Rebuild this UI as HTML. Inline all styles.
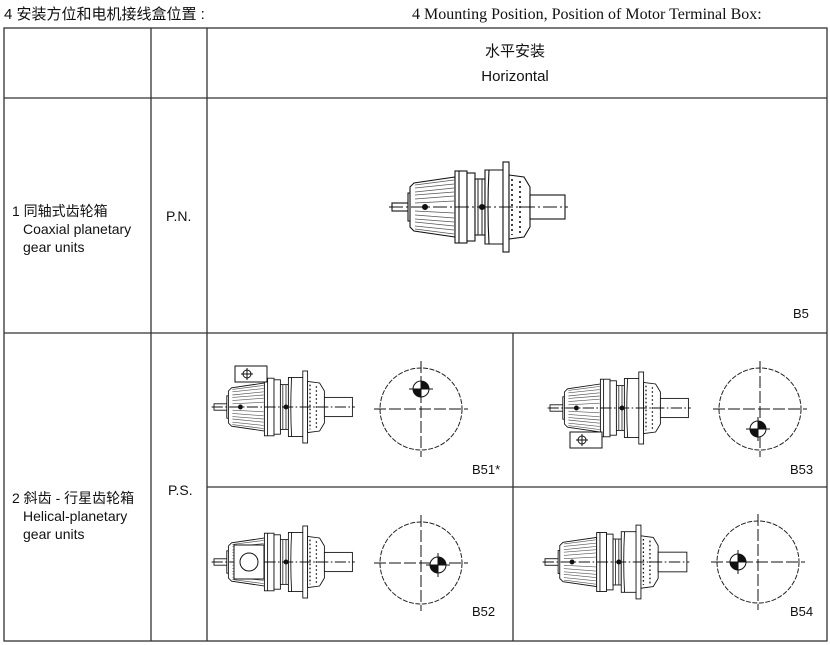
<!DOCTYPE html>
<html><head><meta charset="utf-8"><style>
body{margin:0;background:#fff;}
svg{display:block;}
text{font-family:"Liberation Sans","Noto Sans CJK SC",sans-serif;fill:#111;}
.s{font-family:"Liberation Serif","Noto Serif CJK SC",serif;}
</style></head><body>
<svg width="830" height="645" viewBox="0 0 830 645" xmlns="http://www.w3.org/2000/svg">
<defs>
<g id="m" fill="#fff" stroke="#111" stroke-width="1.1">
  <rect x="0" y="-4" width="20" height="8"/>
  <path d="M16,-14 L20,-14 L20,14 L16,14 Z"/>
  <path d="M18,-20 L22,-24 L63,-30 L63,30 L22,24 L18,20 Z"/>
  <g stroke="#555" stroke-width="0.8">
    <line x1="23" y1="-22" x2="62" y2="-27"/><line x1="23" y1="-19" x2="62" y2="-23"/>
    <line x1="23" y1="-15" x2="62" y2="-19"/><line x1="23" y1="-12" x2="62" y2="-15"/>
    <line x1="23" y1="-8" x2="62" y2="-11"/><line x1="23" y1="-4" x2="62" y2="-6"/>
    <line x1="23" y1="4" x2="62" y2="6"/><line x1="23" y1="8" x2="62" y2="11"/>
    <line x1="23" y1="12" x2="62" y2="15"/><line x1="23" y1="15" x2="62" y2="19"/>
    <line x1="23" y1="19" x2="62" y2="23"/><line x1="23" y1="22" x2="62" y2="27"/>
  </g>
  <rect x="63" y="-36" width="12" height="72"/>
  <line x1="67" y1="-36" x2="67" y2="36"/>
  <rect x="75" y="-34" width="8" height="68"/>
  <rect x="83" y="-28" width="10" height="56"/>
  <g stroke="#333"><line x1="86" y1="-28" x2="86" y2="28"/><line x1="90" y1="-28" x2="90" y2="28"/></g>
  <path d="M93,-37 L111,-37 L113,-30 L113,30 L111,37 L93,37 Z"/>
  <path d="M97,-37 Q95,0 97,37" fill="none"/>
  <rect x="111" y="-45" width="6" height="90"/>
  <path d="M117,-32 L132,-30 L138,-20 L138,20 L132,30 L117,32 Z"/>
  <g stroke="#111" stroke-width="1.6" stroke-dasharray="2,3"><line x1="120" y1="-28" x2="120" y2="28"/><line x1="128" y1="-26" x2="128" y2="26"/></g>
  <rect x="138" y="-12" width="35" height="24"/>
  <line x1="-3" y1="0" x2="176" y2="0" stroke="#111" stroke-dasharray="14,3,2,3"/>
  <circle cx="33" cy="0" r="2.5" fill="#111"/>
  <circle cx="90" cy="0" r="2.5" fill="#111"/>
</g>
<g id="c">
  <circle cx="0" cy="0" r="41" fill="none" stroke="#222" stroke-dasharray="5,1.5"/>
  <line x1="-47" y1="0" x2="47" y2="0" stroke="#111" stroke-dasharray="12,3"/>
  <line x1="0" y1="-48" x2="0" y2="48" stroke="#111" stroke-dasharray="12,3"/>
</g>
<g id="k">
  <circle r="8" fill="#fff" stroke="#111"/>
  <path d="M0,-8 A8,8 0 0 1 8,0 L0,0 Z" fill="#111"/>
  <path d="M0,8 A8,8 0 0 1 -8,0 L0,0 Z" fill="#111"/>
  <line x1="-12" y1="0" x2="12" y2="0" stroke="#111"/><line x1="0" y1="-12" x2="0" y2="12" stroke="#111"/>
</g>
<g id="tb" fill="#fff" stroke="#111">
  <rect x="0" y="0" width="32" height="16"/>
  <circle cx="12" cy="8" r="4"/>
  <line x1="6" y1="8" x2="18" y2="8"/><line x1="12" y1="2" x2="12" y2="14"/>
</g>
</defs>

<text x="4" y="19" font-size="15" font-family="'Liberation Serif','Noto Sans CJK SC',sans-serif">4  安装方位和电机接线盒位置 :</text>
<text x="412" y="19" font-size="16" class="s">4 Mounting Position, Position of Motor Terminal Box:</text>

<g stroke="#333" stroke-width="1.3" fill="none">
  <rect x="4" y="28" width="823" height="613"/>
  <line x1="151" y1="28" x2="151" y2="641"/>
  <line x1="207" y1="28" x2="207" y2="641"/>
  <line x1="4" y1="98" x2="827" y2="98"/>
  <line x1="4" y1="333" x2="827" y2="333"/>
  <line x1="207" y1="487" x2="827" y2="487"/>
  <line x1="513" y1="333" x2="513" y2="641"/>
</g>

<text x="515" y="56" font-size="15" text-anchor="middle">水平安装</text>
<text x="515" y="81" font-size="15" text-anchor="middle">Horizontal</text>

<text x="12" y="216" font-size="14">1 同轴式齿轮箱</text>
<text x="23" y="234" font-size="14">Coaxial planetary</text>
<text x="23" y="252" font-size="14">gear units</text>
<text x="166" y="221" font-size="14">P.N.</text>

<text x="12" y="503" font-size="14">2 斜齿 - 行星齿轮箱</text>
<text x="23" y="521" font-size="14">Helical-planetary</text>
<text x="23" y="539" font-size="14">gear units</text>
<text x="168" y="495" font-size="14">P.S.</text>

<use href="#m" transform="translate(392,207)"/>
<text x="793" y="318" font-size="13">B5</text>

<use href="#m" transform="translate(214,407) scale(0.8)"/>
<use href="#tb" transform="translate(235,366)"/>
<use href="#c" transform="translate(421,409)"/>
<use href="#k" transform="translate(421,389)"/>
<text x="472" y="474" font-size="13">B51*</text>

<use href="#m" transform="translate(550,408) scale(0.8)"/>
<use href="#tb" transform="translate(570,432)"/>
<use href="#c" transform="translate(760,409)"/>
<use href="#k" transform="translate(758,429)"/>
<text x="790" y="474" font-size="13">B53</text>

<use href="#m" transform="translate(214,562) scale(0.8)"/>
<rect x="234" y="545" width="30" height="34" fill="#fff" stroke="#111"/>
<circle cx="249" cy="562" r="9" fill="none" stroke="#111"/>
<use href="#c" transform="translate(421,563)"/>
<use href="#k" transform="translate(438,565)"/>
<text x="472" y="616" font-size="13">B52</text>

<use href="#m" transform="translate(545,562) scale(0.82)"/>
<use href="#c" transform="translate(758,562)"/>
<use href="#k" transform="translate(738,562)"/>
<text x="790" y="616" font-size="13">B54</text>
</svg>
</body></html>
